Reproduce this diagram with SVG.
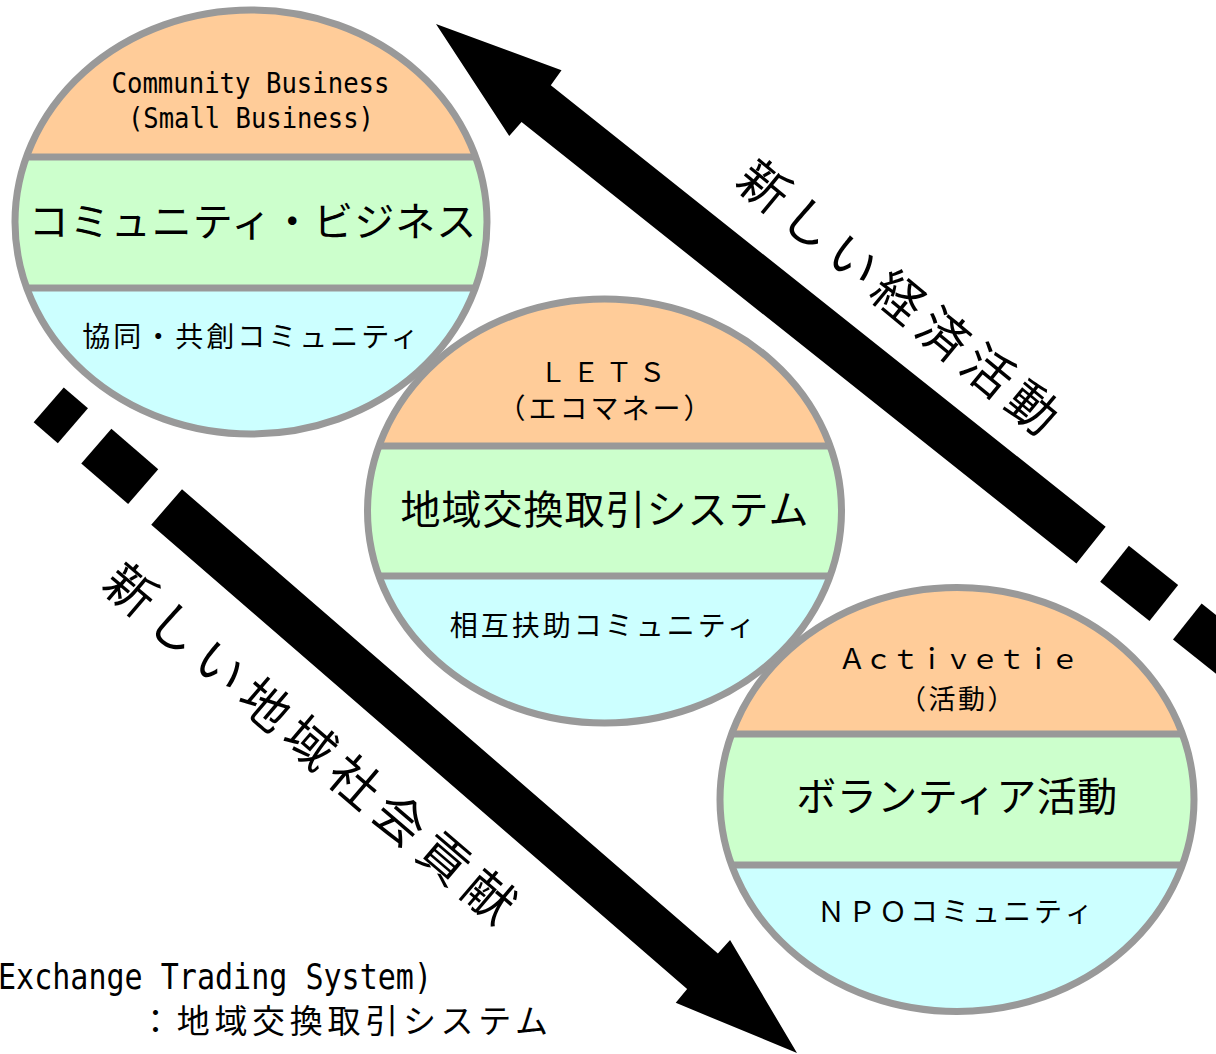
<svg xmlns="http://www.w3.org/2000/svg" width="1216" height="1054" viewBox="0 0 1216 1054">
<style>
.o{fill:#FFCC99}
.g{fill:#CCFFCC}
.b{fill:#CCFFFF}
.sep{stroke:#999999;stroke-width:7}
.rim{fill:none;stroke:#999999;stroke-width:7}
.jp{font-family:"Noto Sans CJK JP","Noto Sans",sans-serif;fill:#000}
.big{font-size:40px;letter-spacing:1px}
.mid{font-size:28px;letter-spacing:3px}
.sp{font-size:28px}
.mono{font-family:"DejaVu Sans Mono","Liberation Mono",monospace;fill:#000}
.arr{fill:#000}
.lab{font-family:"Noto Sans CJK JP","Noto Sans",sans-serif;font-size:50px;fill:#000}
</style>
<defs>
<clipPath id="c1"><ellipse cx="251" cy="222" rx="236" ry="212"/></clipPath>
<clipPath id="c2"><ellipse cx="604.5" cy="511" rx="237" ry="212"/></clipPath>
<clipPath id="c3"><ellipse cx="957" cy="799.5" rx="237" ry="212"/></clipPath>
</defs>
<rect width="1216" height="1054" fill="#ffffff"/>

<g id="connectors">
  <g id="arrow-economy" transform="translate(436,24) rotate(38.5)">
    <polygon class="arr" points="0,0 127,-42 128,-23.5 837,-23.5 837,23.5 128,23.5 127,42"/>
    <rect class="arr" x="867" y="-23" width="63" height="46"/>
    <rect class="arr" x="960" y="-23" width="63" height="46"/>
  </g>
  <g id="arrow-society" transform="translate(797,1053) rotate(220.9)">
    <polygon class="arr" points="0,0 124.5,-41.5 125,-23.5 834,-23.5 834,23.5 125,23.5 124.5,41.5"/>
    <rect class="arr" x="865" y="-23" width="62" height="46"/>
    <rect class="arr" x="958" y="-23" width="32" height="46"/>
  </g>
  <g id="label-economy" transform="translate(899,296.5) rotate(39.5)">
    <text class="lab" x="4" y="19" text-anchor="middle" letter-spacing="8">新しい経済活動</text>
  </g>
  <g id="label-society" transform="translate(310.5,742.5) rotate(40.5)">
    <text class="lab" x="4.5" y="19" text-anchor="middle" letter-spacing="9">新しい地域社会貢献</text>
  </g>
</g>

<g id="node-community-business">
  <g clip-path="url(#c1)">
    <rect class="o" x="0" y="0" width="500" height="157"/>
    <rect class="g" x="0" y="157" width="500" height="131"/>
    <rect class="b" x="0" y="288" width="500" height="160"/>
    <line class="sep" x1="0" y1="157" x2="500" y2="157"/>
    <line class="sep" x1="0" y1="288" x2="500" y2="288"/>
  </g>
  <ellipse class="rim" cx="251" cy="222" rx="236" ry="212"/>
  <text class="mono" x="111.5" y="93" font-size="29" textLength="278" lengthAdjust="spacingAndGlyphs">Community Business</text>
  <text class="mono" x="128" y="128" font-size="29" textLength="246" lengthAdjust="spacingAndGlyphs">(Small Business)</text>
  <text class="jp big" x="253" y="236" text-anchor="middle">コミュニティ・ビジネス</text>
  <text class="jp mid" x="252" y="347" text-anchor="middle">協同・共創コミュニティ</text>
</g>

<g id="node-lets">
  <g clip-path="url(#c2)">
    <rect class="o" x="360" y="290" width="490" height="156"/>
    <rect class="g" x="360" y="446" width="490" height="130"/>
    <rect class="b" x="360" y="576" width="490" height="160"/>
    <line class="sep" x1="360" y1="446" x2="850" y2="446"/>
    <line class="sep" x1="360" y1="576" x2="850" y2="576"/>
  </g>
  <ellipse class="rim" cx="604.5" cy="511" rx="237" ry="212"/>
  <text class="jp" font-size="27" x="553 586 619 652" y="382" text-anchor="middle">ＬＥＴＳ</text>
  <text class="jp mid" x="606" y="419" text-anchor="middle">（エコマネー）</text>
  <text class="jp big" x="605" y="524" text-anchor="middle">地域交換取引システム</text>
  <text class="jp mid" x="604" y="636" text-anchor="middle">相互扶助コミュニティ</text>
</g>

<g id="node-activetie">
  <g clip-path="url(#c3)">
    <rect class="o" x="710" y="580" width="500" height="154"/>
    <rect class="g" x="710" y="734" width="500" height="131"/>
    <rect class="b" x="710" y="865" width="500" height="160"/>
    <line class="sep" x1="710" y1="734" x2="1210" y2="734"/>
    <line class="sep" x1="710" y1="865" x2="1210" y2="865"/>
  </g>
  <ellipse class="rim" cx="957" cy="799.5" rx="237" ry="212"/>
  <text class="jp" font-size="28" x="852 878.6 905.2 931.8 958.4 985 1011.6 1038.2 1064.8" y="669" text-anchor="middle">Ａｃｔｉｖｅｔｉｅ</text>
  <text class="jp" font-size="27" letter-spacing="2.5" x="958" y="709" text-anchor="middle">（活動）</text>
  <text class="jp" font-size="40" letter-spacing="0.5" x="957" y="811" text-anchor="middle">ボランティア活動</text>
  <text class="jp sp" x="831 862 893 924 955 986 1017 1048 1079" y="922" text-anchor="middle">ＮＰＯコミュニティ</text>
</g>

<g id="legend">
  <text class="mono" x="-2" y="989" font-size="36" textLength="434" lengthAdjust="spacingAndGlyphs">Exchange Trading System)</text>
  <text class="jp" x="139" y="1033" font-size="33" letter-spacing="4.7">：地域交換取引システム</text>
</g>
</svg>
